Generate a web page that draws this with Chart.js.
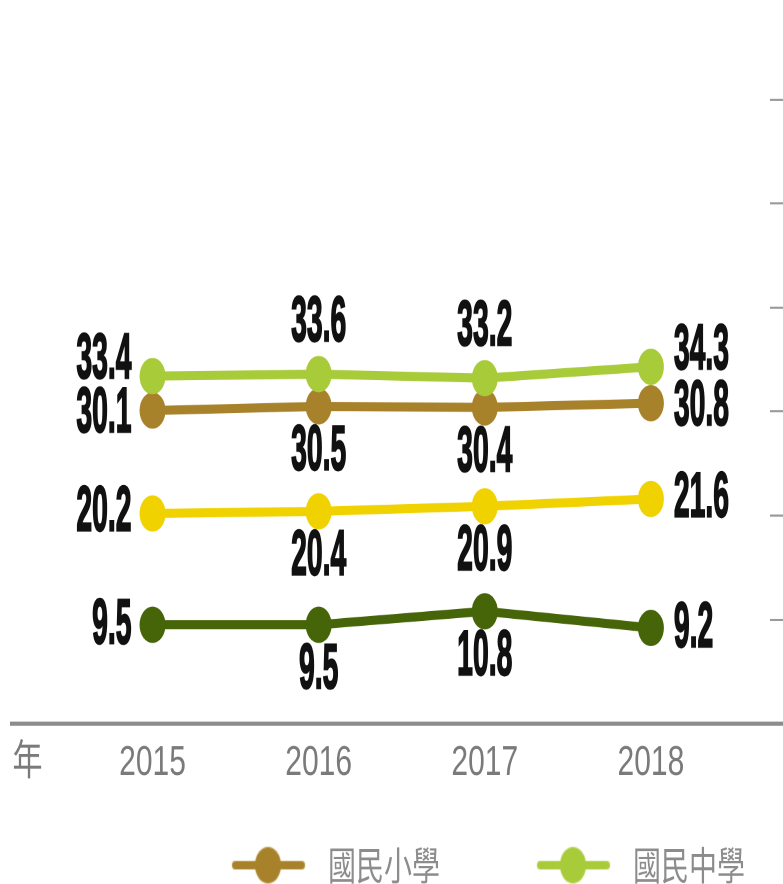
<!DOCTYPE html>
<html>
<head>
<meta charset="utf-8">
<script src="https://cdn.jsdelivr.net/npm/chart.js@4"></script>
<style>
html, body { margin: 0; padding: 0; background: #fff; overflow: hidden; width: 783px; height: 884px; }
/* the original picture is stretched vertically, so we stretch the canvas the same way */
#wrap { position: absolute; left: 0; top: 0; width: 783px; height: 642px; transform: scaleY(1.4); transform-origin: 0 0; }
</style>
</head>
<body>
<div id="wrap"><canvas id="myChart"></canvas></div>
<script>
const years = ['2015', '2016', '2017', '2018'];
const yearLabel = '年';
const seriesNames = ['國民小學', '國民中學', '高級中等學校', '大專校院'];
const elementary = [30.1, 30.5, 30.4, 30.8];
const junior = [33.4, 33.6, 33.2, 34.3];
const senior = [20.2, 20.4, 20.9, 21.6];
const college = [9.5, 9.5, 10.8, 9.2];

const seriesColors = ['#a8822a', '#a8cb3a', '#f0d200', '#466408'];
const seriesOrder = [1, 0, 2, 3];  // lime line sits on top

// where each value label goes, relative to its point
const labelPlace = [
    ['left', 'below', 'below', 'right'],
    ['left', 'above', 'above', 'right'],
    ['left', 'below', 'below', 'right'],
    ['left', 'below', 'below', 'right']
];
const sideShift = [3, -11, 0, 1];

const seriesValues = [elementary, junior, senior, college];

// legend marker: line with a dot in the middle
function legendIcon(color) {
    const c = document.createElement('canvas');
    c.width = 141;
    c.height = 30;
    const g = c.getContext('2d');
    g.strokeStyle = color;
    g.lineWidth = 6;
    g.lineCap = 'round';
    g.beginPath();
    g.moveTo(62, 15);
    g.lineTo(129, 15);
    g.stroke();
    g.fillStyle = color;
    g.beginPath();
    g.arc(95, 15, 13, 0, Math.PI * 2);
    g.fill();
    return c;
}

// draw the bottom axis line across the whole width
const baseLine = {
    id: 'baseLine',
    beforeDatasetsDraw(chart) {
        const ctx = chart.ctx;
        const y = chart.scales.y.getPixelForValue(0);
        ctx.save();
        ctx.strokeStyle = '#8c8c8c';
        ctx.lineWidth = 3;
        ctx.beginPath();
        ctx.moveTo(chart.chartArea.left - 3, y);
        ctx.lineTo(chart.width, y);
        ctx.stroke();
        ctx.restore();
    }
};

// value labels next to the points
const valueLabels = {
    id: 'valueLabels',
    afterDatasetsDraw(chart) {
        const ctx = chart.ctx;
        ctx.save();
        ctx.font = 'bold 45px "Liberation Sans", Arial, sans-serif';
        ctx.fillStyle = '#111';
        ctx.strokeStyle = '#111';
        ctx.lineWidth = 1.4;
        ctx.textBaseline = 'middle';
        chart.data.datasets.forEach((ds, di) => {
            const meta = chart.getDatasetMeta(di);
            meta.data.forEach((pt, i) => {
                const place = labelPlace[di][i];
                let x = pt.x;
                let y = pt.y;
                let align = 'center';
                if (place === 'left') {
                    x -= 21; y += sideShift[di]; align = 'right';
                } else if (place === 'right') {
                    x += 23; y += sideShift[di]; align = 'left';
                } else if (place === 'above') {
                    y -= 36;
                } else {
                    y += 33;
                }
                const txt = ds.data[i].y.toFixed(1);
                ctx.save();
                ctx.translate(x, y);
                ctx.scale(0.63, 1);
                ctx.textAlign = align;
                ctx.strokeText(txt, 0, 0);
                ctx.fillText(txt, 0, 0);
                ctx.restore();
            });
        });
        ctx.restore();
    }
};

function makeDataset(i) {
    return {
        label: seriesNames[i],
        data: years.map((yr, j) => ({ x: j, y: seriesValues[i][j] })),
        borderColor: seriesColors[i],
        backgroundColor: seriesColors[i],
        pointBackgroundColor: seriesColors[i],
        borderWidth: 6.5,
        pointRadius: 13,
        pointHoverRadius: 13,
        pointBorderWidth: 0,
        tension: 0,
        order: seriesOrder[i],
        clip: false
    };
}

const ctx = document.getElementById('myChart').getContext('2d');
const chart = new Chart(ctx, {
    type: 'line',
    data: {
        datasets: [0, 1, 2, 3].map(makeDataset)
    },
    options: {
        responsive: true,
        maintainAspectRatio: false,
        devicePixelRatio: 2,
        animation: false,
        events: [],
        layout: { padding: { top: 71, left: 8, right: 0, bottom: 0 } },
        scales: {
            x: {
                type: 'linear',
                min: -0.84,
                max: 3.717,
                afterBuildTicks(scale) {
                    scale.ticks = [-0.753, 0, 1, 2, 3].map(v => ({ value: v }));
                },
                grid: { display: false },
                border: { display: false },
                ticks: {
                    autoSkip: false,
                    maxRotation: 0,
                    padding: 6,
                    color: '#7a7a7a',
                    font: { family: '"Liberation Sans", "Noto Sans CJK TC", sans-serif', size: 30, lineHeight: 0.97 },
                    callback: (v) => v < 0 ? yearLabel : years[v]
                }
            },
            y: {
                position: 'right',
                min: 0,
                max: 60,
                ticks: { display: false, stepSize: 10 },
                grid: {
                    drawOnChartArea: false,
                    drawTicks: true,
                    tickLength: 13,
                    color: '#9a9a9a',
                    lineWidth: 1.5
                },
                border: { display: false }
            }
        },
        plugins: {
            tooltip: { enabled: false },
            legend: {
                position: 'bottom',
                align: 'end',
                labels: {
                    usePointStyle: true,
                    pointStyleWidth: 141,
                    padding: 38,
                    color: '#8c8c8c',
                    font: { family: '"Noto Sans CJK TC", sans-serif', size: 28 },
                    filter: (item) => item.datasetIndex < 2,
                    sort: (a, b) => a.datasetIndex - b.datasetIndex,
                    generateLabels(chart) {
                        const items = Chart.defaults.plugins.legend.labels.generateLabels(chart);
                        items.forEach(it => { it.pointStyle = legendIcon(seriesColors[it.datasetIndex]); });
                        return items;
                    }
                }
            }
        }
    },
    plugins: [baseLine, valueLabels]
});
</script>
</body>
</html>
